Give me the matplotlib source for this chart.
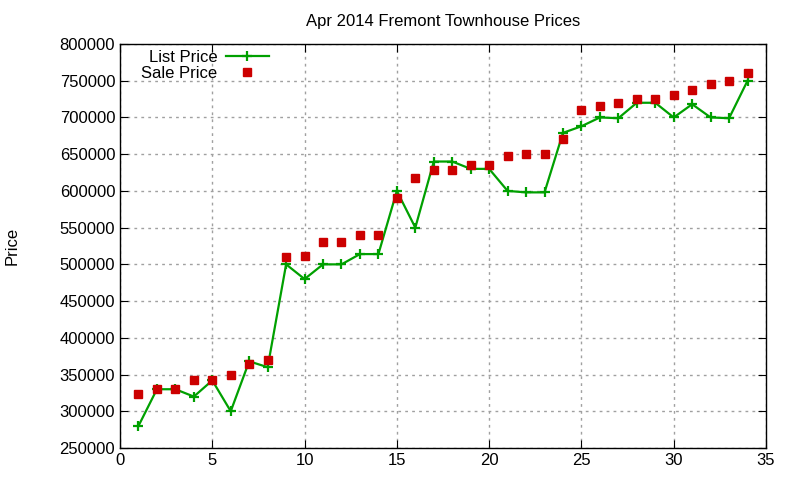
import matplotlib
matplotlib.use("Agg")
import matplotlib.pyplot as plt

plt.rcParams['font.family'] = ['Liberation Sans', 'DejaVu Sans']

# 每个样本序号
idx = list(range(1, 35))
list_price = [280000, 330000, 330000, 320000, 342000, 300000, 368000, 360000,
              500000, 480000, 500000, 500000, 514000, 514000, 600000, 550000,
              640000, 640000, 630000, 630000, 600000, 598000, 598000, 679000,
              688000, 700000, 699000, 720000, 720000, 700000, 718000, 700000,
              699000, 750000]
sale_price = [324000, 330000, 330000, 343000, 342000, 350000, 365000, 370000,
              510000, 511000, 530000, 530000, 540000, 540000, 590000, 618000,
              628000, 628000, 635000, 635000, 648000, 650000, 650000, 671000,
              710000, 715000, 720000, 725000, 725000, 730000, 738000, 745000,
              750000, 760000]

fig = plt.figure(figsize=(8, 4.8), dpi=100)
ax = fig.add_axes([120 / 800, 1 - 448 / 480, 646 / 800, 404 / 480])

ax.plot(idx, list_price, color='#00a000', lw=1.6, marker='+', ms=7.5, mew=1.6,
        label='List Price')
ax.plot(idx, sale_price, ls='none', color='#cc0000', marker='s', ms=6,
        label='Sale Price')

ax.set_xlim(0, 35)
ax.set_ylim(250000, 800000)
ax.set_xticks(range(0, 36, 5))
ax.set_yticks(range(250000, 800001, 50000))
ax.tick_params(direction='in', top=True, right=True, labelsize=12, length=6)
ax.grid(True, color='#a0a0a0', ls=(0, (2, 3)), lw=1)
for s in ax.spines.values():
    s.set_linewidth(1)

ax.set_title('Apr 2014 Fremont Townhouse Prices', fontsize=12, pad=13)
fig.text(12 / 800, 1 - 246 / 480, 'Price', rotation=90, fontsize=12,
         ha='center', va='center')

ax.legend(loc='upper left', bbox_to_anchor=(0.02, 1.007), frameon=False,
          markerfirst=False, fontsize=12, handlelength=2.6,
          borderaxespad=0.1, labelspacing=0.08, handletextpad=0.5)

fig.savefig('out.png', dpi=100)
